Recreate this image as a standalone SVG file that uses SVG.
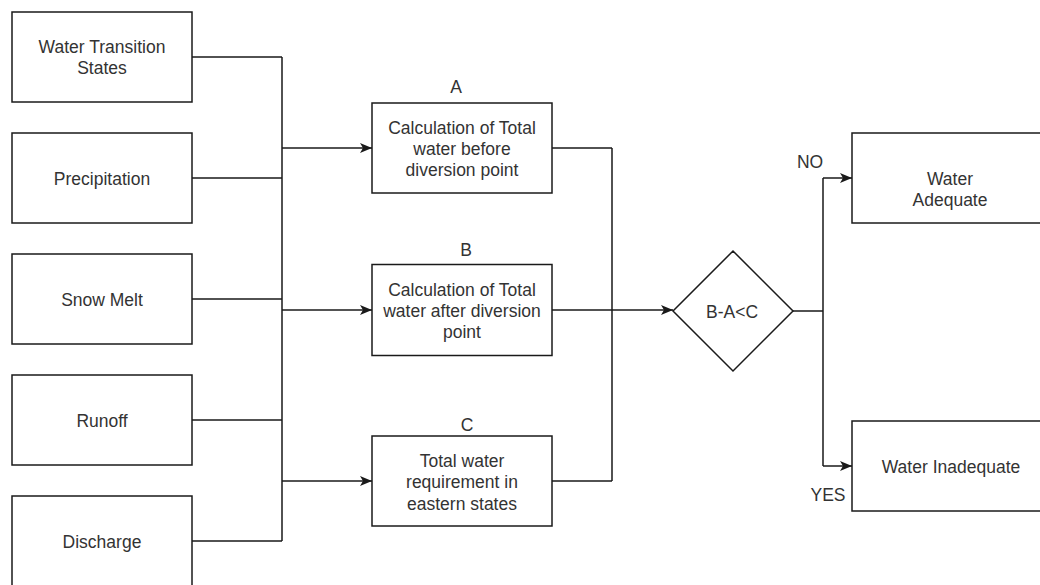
<svg xmlns="http://www.w3.org/2000/svg" width="1040" height="585" viewBox="0 0 1040 585">
  <style>
    .box { fill: #ffffff; stroke: #1a1a1a; stroke-width: 1.5; }
    .txt { font-family: "Liberation Sans", Arial, sans-serif; font-size: 17.5px; fill: #333333; text-anchor: middle; }
    .conn { fill: none; stroke: #1a1a1a; stroke-width: 1.5; }
    .arrow { fill: none; stroke: #1a1a1a; stroke-width: 1.5; marker-end: url(#arr); }
  </style>
  <defs>
    <marker id="arr" markerUnits="userSpaceOnUse" viewBox="0 0 12 10" markerWidth="12" markerHeight="10" refX="12" refY="5" orient="auto">
      <path d="M0,0 L12,5 L0,10 L3,5 Z" fill="#1a1a1a"/>
    </marker>
  </defs>
  <rect width="1040" height="585" fill="#ffffff"/>

  <g id="connectors">
    <path class="conn" d="M192,57 H282 M192,178 H282 M192,299 H282 M192,420 H282 M192,541 H282 M282,57 V541"/>
    <path class="arrow" d="M282,148 H372"/>
    <path class="arrow" d="M282,310 H372"/>
    <path class="arrow" d="M282,481 H372"/>
    <path class="conn" d="M552,148 H612 M552,481 H612 M612,148 V481 M552,310 H612"/>
    <path class="arrow" d="M612,310 H673"/>
    <path class="conn" d="M793,311 H823 M823,178 V466"/>
    <path class="arrow" d="M823,178 H852"/>
    <path class="arrow" d="M823,466 H852"/>
  </g>

  <g id="n-water-transition">
    <rect class="box" x="12" y="12" width="180" height="90"/>
    <text class="txt" x="102" y="53">Water Transition</text>
    <text class="txt" x="102" y="74">States</text>
  </g>
  <g id="n-precipitation">
    <rect class="box" x="12" y="133" width="180" height="90"/>
    <text class="txt" x="102" y="184.5">Precipitation</text>
  </g>
  <g id="n-snow-melt">
    <rect class="box" x="12" y="254" width="180" height="90"/>
    <text class="txt" x="102" y="305.5">Snow Melt</text>
  </g>
  <g id="n-runoff">
    <rect class="box" x="12" y="375" width="180" height="90"/>
    <text class="txt" x="102" y="426.5">Runoff</text>
  </g>
  <g id="n-discharge">
    <rect class="box" x="12" y="496" width="180" height="90"/>
    <text class="txt" x="102" y="547.5">Discharge</text>
  </g>

  <g id="n-a">
    <text class="txt" x="456" y="92.5">A</text>
    <rect class="box" x="372" y="103" width="180" height="90"/>
    <text class="txt" x="462" y="133.5">Calculation of Total</text>
    <text class="txt" x="462" y="154.5">water before</text>
    <text class="txt" x="462" y="175.5">diversion point</text>
  </g>
  <g id="n-b">
    <text class="txt" x="466" y="256">B</text>
    <rect class="box" x="372" y="264.5" width="180" height="91"/>
    <text class="txt" x="462" y="295.5">Calculation of Total</text>
    <text class="txt" x="462" y="316.5">water after diversion</text>
    <text class="txt" x="462" y="338">point</text>
  </g>
  <g id="n-c">
    <text class="txt" x="467" y="430.5">C</text>
    <rect class="box" x="372" y="436" width="180" height="90"/>
    <text class="txt" x="462" y="466.5">Total water</text>
    <text class="txt" x="462" y="488">requirement in</text>
    <text class="txt" x="462" y="509.5">eastern states</text>
  </g>

  <g id="n-decision">
    <polygon class="box" points="673,311 733,251 793,311 733,371"/>
    <text class="txt" x="732" y="318">B-A&lt;C</text>
  </g>

  <g id="n-adequate">
    <rect class="box" x="852" y="133" width="200" height="90"/>
    <text class="txt" x="950" y="185">Water</text>
    <text class="txt" x="950" y="206">Adequate</text>
  </g>
  <g id="n-inadequate">
    <rect class="box" x="852" y="421" width="200" height="90"/>
    <text class="txt" x="951" y="472.5">Water Inadequate</text>
  </g>

  <g id="labels">
    <text class="txt" x="810" y="168">NO</text>
    <text class="txt" x="828" y="501">YES</text>
  </g>
</svg>
